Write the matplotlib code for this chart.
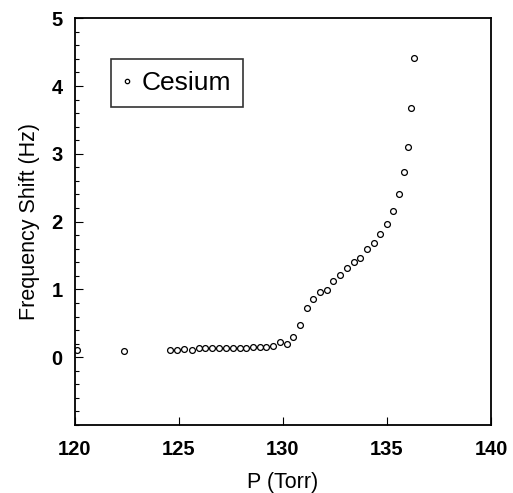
import matplotlib.pyplot as plt
from matplotlib.ticker import MultipleLocator

plt.rcParams["font.family"] = ["Liberation Sans", "DejaVu Sans"]

# pressure (Torr) and frequency shift (Hz)
pressure = [120.1, 122.34, 124.55, 124.92, 125.26, 125.61, 125.95, 126.27,
            126.60, 126.92, 127.26, 127.58, 127.92, 128.24, 128.57, 128.89,
            129.21, 129.54, 129.86, 130.18, 130.50, 130.83, 131.15, 131.46,
            131.79, 132.12, 132.42, 132.74, 133.06, 133.40, 133.72, 134.04,
            134.36, 134.66, 134.98, 135.29, 135.56, 135.80, 135.99, 136.17,
            136.28]
shift = [0.10, 0.09, 0.10, 0.11, 0.12, 0.10, 0.13, 0.14,
         0.13, 0.13, 0.14, 0.14, 0.14, 0.14, 0.15, 0.15,
         0.15, 0.16, 0.22, 0.19, 0.30, 0.48, 0.73, 0.86,
         0.96, 0.99, 1.13, 1.21, 1.31, 1.40, 1.47, 1.60,
         1.68, 1.82, 1.97, 2.16, 2.40, 2.73, 3.10, 3.67,
         4.41]

x_ticks = [120, 125, 130, 135, 140]
y_ticks = [0, 1, 2, 3, 4, 5]

fig = plt.figure(figsize=(5.13, 4.93), dpi=100)
ax = fig.add_axes([0.146, 0.138, 0.811, 0.825])

ax.plot(pressure, shift, "o", mfc="none", mec="black", ms=4.2, mew=0.9,
        label="Cesium")

ax.set_xlim(120, 140)
ax.set_ylim(-1, 5)
ax.set_xticks(x_ticks)
ax.set_yticks(y_ticks)
ax.yaxis.set_minor_locator(MultipleLocator(0.2))

ax.tick_params(axis="both", which="both", direction="in", top=False,
               right=False)
ax.tick_params(which="major", length=6, width=0.8, labelsize=14.5)
ax.tick_params(axis="y", which="major", pad=9)
ax.tick_params(axis="x", which="major", pad=11)
ax.tick_params(which="minor", length=3, width=0.8)
for lab in ax.get_xticklabels() + ax.get_yticklabels():
    lab.set_fontweight("bold")

for sp in ax.spines.values():
    sp.set_linewidth(1.3)

ax.set_xlabel("P (Torr)", fontsize=15.5, labelpad=9)
ax.set_ylabel("Frequency Shift (Hz)", fontsize=15.5, labelpad=8)

leg = ax.legend(loc="upper left", bbox_to_anchor=(0.0865, 0.899),
                borderaxespad=0, fontsize=19, frameon=True, fancybox=False,
                edgecolor="black", handlelength=0.35, handletextpad=0.35,
                borderpad=0.45, markerscale=0.75)
leg.get_frame().set_linewidth(1.2)

fig.savefig("out.png", dpi=100)
